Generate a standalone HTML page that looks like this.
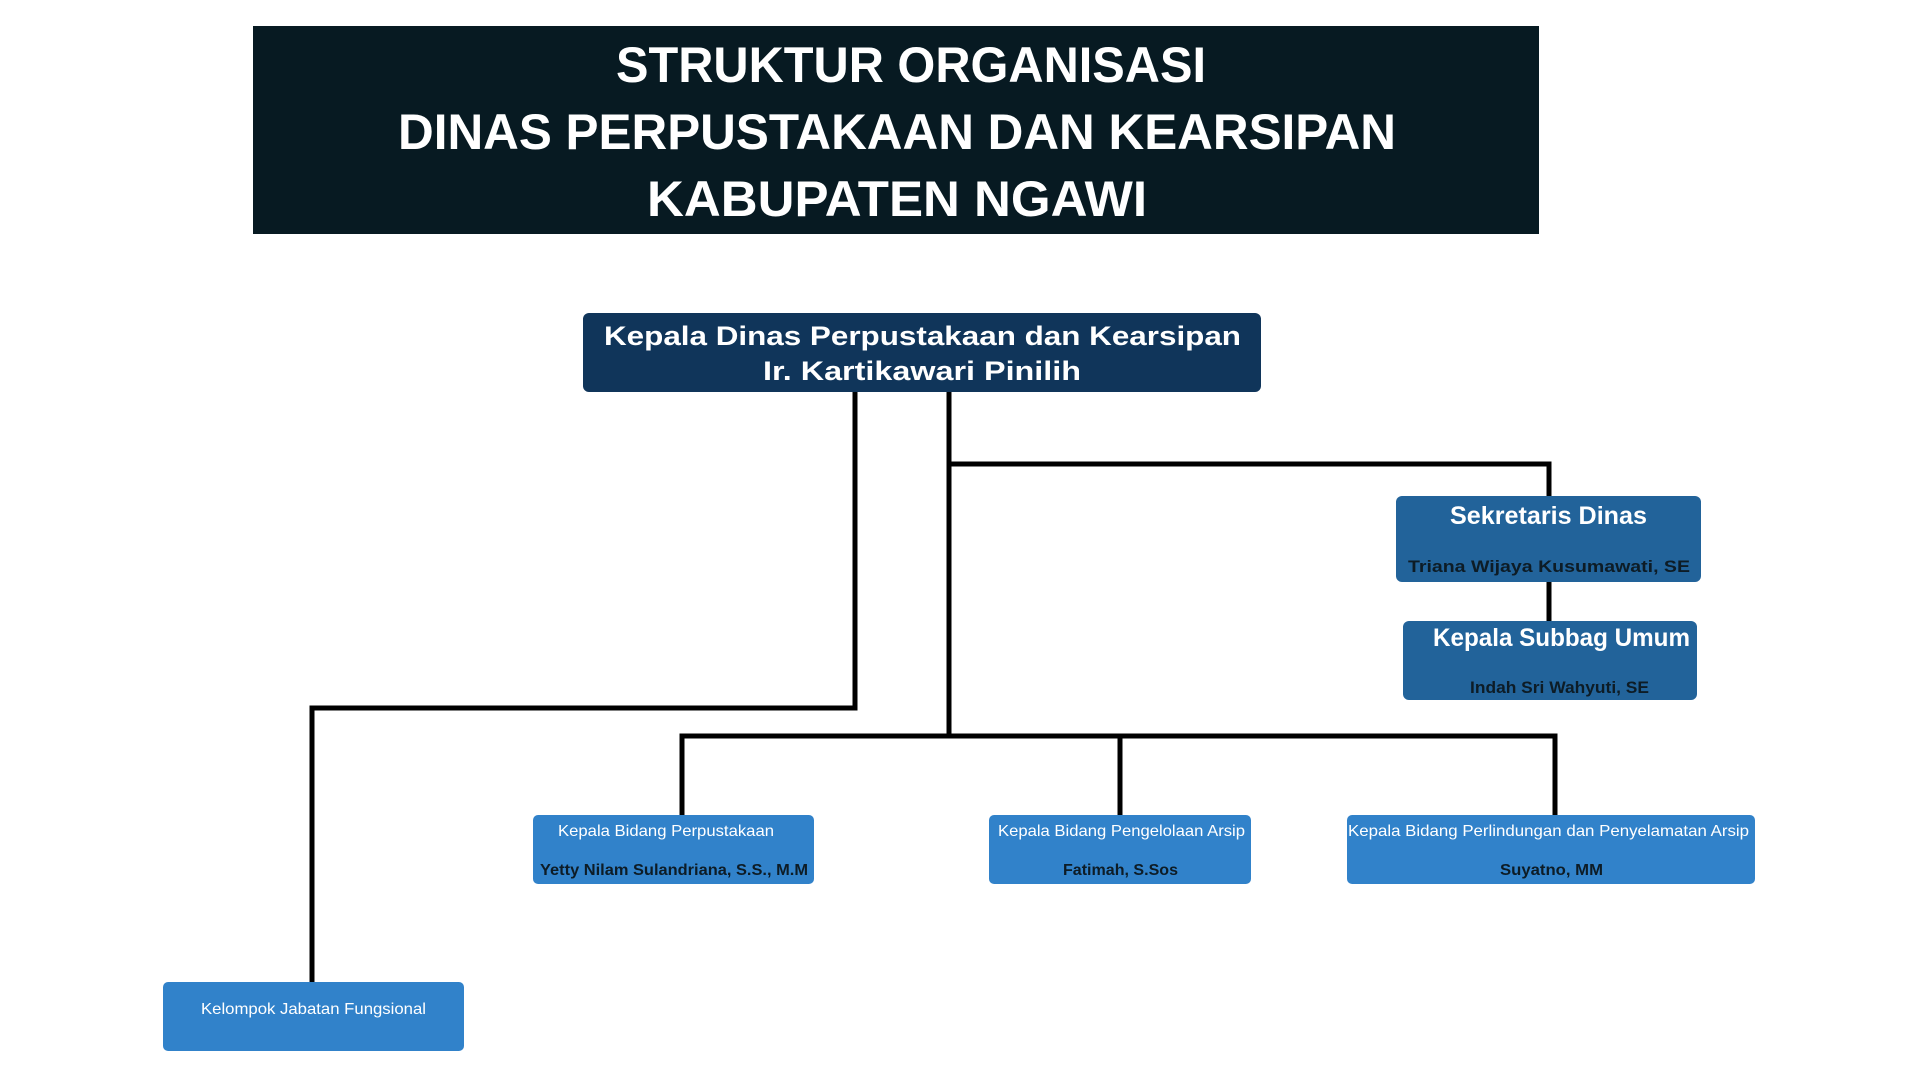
<!DOCTYPE html>
<html><head><meta charset="utf-8"><style>html,body{margin:0;padding:0;background:#fff;width:1920px;height:1080px;overflow:hidden}</style></head>
<body>
<svg width="1920" height="1080" viewBox="0 0 1920 1080" xmlns="http://www.w3.org/2000/svg" font-family="Liberation Sans, sans-serif" font-weight="bold">
<rect x="253" y="26" width="1286" height="208" fill="#071a22"/>
<g fill="#fff" font-size="50">
<text x="616" y="82" textLength="590" lengthAdjust="spacingAndGlyphs">STRUKTUR ORGANISASI</text>
<text x="398" y="149" textLength="998" lengthAdjust="spacingAndGlyphs">DINAS PERPUSTAKAAN DAN KEARSIPAN</text>
<text x="647" y="216" textLength="500" lengthAdjust="spacingAndGlyphs">KABUPATEN NGAWI</text>
</g>
<g stroke="#000" stroke-width="5" fill="none">
<polyline points="855,392 855,708 312,708 312,982"/>
<polyline points="949,392 949,736"/>
<polyline points="949,464 1549,464 1549,496"/>
<line x1="1549" y1="582" x2="1549" y2="621"/>
<polyline points="682,815 682,736 1555,736 1555,815"/>
<line x1="1120" y1="736" x2="1120" y2="815"/>
</g>
<rect x="583" y="313" width="678" height="79" rx="6" fill="#10355a"/>
<g fill="#fff" font-size="27">
<text x="604" y="345" textLength="637" lengthAdjust="spacingAndGlyphs">Kepala Dinas Perpustakaan dan Kearsipan</text>
<text x="763" y="380" textLength="318" lengthAdjust="spacingAndGlyphs">Ir. Kartikawari Pinilih</text>
</g>
<rect x="1396" y="496" width="305" height="86" rx="6" fill="#22639a"/>
<rect x="1403" y="621" width="294" height="79" rx="6" fill="#22639a"/>
<text x="1450" y="524" font-size="25" fill="#fff" textLength="197" lengthAdjust="spacingAndGlyphs">Sekretaris Dinas</text>
<text x="1408" y="572" font-size="17" fill="#0d1c26" textLength="282" lengthAdjust="spacingAndGlyphs">Triana Wijaya Kusumawati, SE</text>
<text x="1433" y="646" font-size="25" fill="#fff" textLength="257" lengthAdjust="spacingAndGlyphs">Kepala Subbag Umum</text>
<text x="1470" y="693" font-size="17" fill="#0d1c26" textLength="179" lengthAdjust="spacingAndGlyphs">Indah Sri Wahyuti, SE</text>
<g fill="#3182ca">
<rect x="533" y="815" width="281" height="69" rx="5"/>
<rect x="989" y="815" width="262" height="69" rx="5"/>
<rect x="1347" y="815" width="408" height="69" rx="5"/>
<rect x="163" y="982" width="301" height="69" rx="5"/>
</g>
<g font-size="16">
<text x="558" y="836" fill="#fff" font-weight="normal" textLength="216" lengthAdjust="spacingAndGlyphs">Kepala Bidang Perpustakaan</text>
<text x="540" y="875" fill="#0d1c26" textLength="268" lengthAdjust="spacingAndGlyphs">Yetty Nilam Sulandriana, S.S., M.M</text>
<text x="998" y="836" fill="#fff" font-weight="normal" textLength="247" lengthAdjust="spacingAndGlyphs">Kepala Bidang Pengelolaan Arsip</text>
<text x="1063" y="875" fill="#0d1c26" textLength="115" lengthAdjust="spacingAndGlyphs">Fatimah, S.Sos</text>
<text x="1348" y="836" fill="#fff" font-weight="normal" textLength="401" lengthAdjust="spacingAndGlyphs">Kepala Bidang Perlindungan dan Penyelamatan Arsip</text>
<text x="1500" y="875" fill="#0d1c26" textLength="103" lengthAdjust="spacingAndGlyphs">Suyatno, MM</text>
<text x="201" y="1014" fill="#fff" font-weight="normal" textLength="225" lengthAdjust="spacingAndGlyphs">Kelompok Jabatan Fungsional</text>
</g>
</svg>
</body></html>
